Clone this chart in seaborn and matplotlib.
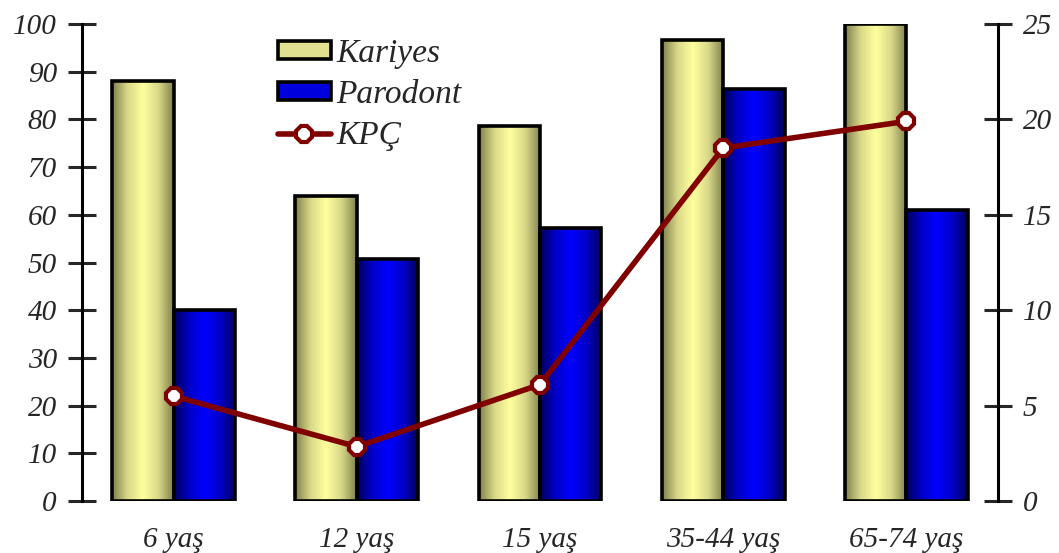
"""Kariyes / Parodont prevalence by age group, with KPÇ on a secondary axis."""
import numpy as np
import pandas as pd
import matplotlib
matplotlib.use("Agg")
import matplotlib.pyplot as plt
from matplotlib.colors import LinearSegmentedColormap
from matplotlib.patches import Patch
from matplotlib.lines import Line2D
import seaborn as sns

# data
age_groups = ["6 yaş", "12 yaş", "15 yaş", "35-44 yaş", "65-74 yaş"]
kariyes = [88, 64, 78.7, 96.6, 100]
parodont = [40, 50.7, 57.2, 86.4, 61]
kpc = [5.5, 2.85, 6.1, 18.5, 19.9]

SERIES = ["Kariyes", "Parodont"]
# edge -> centre -> edge colours for the "cylinder" shading
GRADIENTS = {
    "Kariyes": ["#7f7f4c", "#d8d888", "#ffff9e", "#d8d888", "#7f7f4c"],
    "Parodont": ["#00005a", "#0000c8", "#0000ff", "#0000c8", "#00005a"],
}
LEGEND_FILL = {"Kariyes": "#e0e090", "Parodont": "#0000dd"}
LINE_COLOR = "#800000"
FS = 21

df = pd.DataFrame({
    "group": age_groups * 2,
    "series": ["Kariyes"] * len(age_groups) + ["Parodont"] * len(age_groups),
    "value": kariyes + parodont,
})

sns.set_theme(style="white")
plt.rcParams["font.family"] = ["Liberation Serif", "DejaVu Serif"]
plt.rcParams["font.style"] = "italic"

fig = plt.figure(figsize=(10.59, 5.53), dpi=100)
ax = fig.add_axes([0.0774, 0.094, 0.865, 0.8626])

sns.barplot(data=df, x="group", y="value", hue="series", hue_order=SERIES,
            order=age_groups, width=0.67, gap=0, ax=ax, legend=False,
            palette={s: LEGEND_FILL[s] for s in SERIES})

# replace the flat fills with a horizontal gradient clipped to each bar
n = len(age_groups)
for i, p in enumerate(ax.patches[: 2 * n]):
    series = SERIES[i // n]
    cmap = LinearSegmentedColormap.from_list(series, GRADIENTS[series])
    x0, y0 = p.get_x(), p.get_y()
    w, h = p.get_width(), p.get_height()
    grad = np.linspace(0, 1, 256).reshape(1, -1)
    im = ax.imshow(grad, cmap=cmap, aspect="auto", extent=(x0, x0 + w, y0, y0 + h),
                   zorder=p.get_zorder(), interpolation="bicubic")
    im.set_clip_path(p)
    p.set_facecolor("none")
    p.set_edgecolor("black")
    p.set_linewidth(2.6)
    p.set_zorder(p.get_zorder() + 0.5)

ax.set_xlim(-0.5, n - 0.5)
ax.set_ylim(0, 100)
ax.set_yticks(range(0, 101, 10))
ax.set_xlabel("")
ax.set_ylabel("")
for s in ["top", "right", "bottom"]:
    ax.spines[s].set_visible(False)
ax.spines["left"].set_linewidth(2.2)
ax.spines["left"].set_color("black")
ax.tick_params(axis="y", direction="inout", length=20, width=2.2, labelsize=FS,
               pad=8, left=True)
ax.tick_params(axis="x", length=0, labelsize=FS, pad=19)

ax2 = ax.twinx()
sns.lineplot(x=list(range(n)), y=kpc, ax=ax2, color=LINE_COLOR, linewidth=4,
             marker="8", markersize=12, markerfacecolor="white",
             markeredgecolor=LINE_COLOR, markeredgewidth=3, sort=False)
ax2.set_ylim(0, 25)
ax2.set_yticks(range(0, 26, 5))
for s in ["top", "left", "bottom"]:
    ax2.spines[s].set_visible(False)
ax2.spines["right"].set_linewidth(2.2)
ax2.spines["right"].set_color("black")
ax2.tick_params(axis="y", direction="inout", length=20, width=2.2, labelsize=FS,
                pad=8, right=True)
ax2.grid(False)
ax.grid(False)

handles = [
    Patch(facecolor=LEGEND_FILL["Kariyes"], edgecolor="black", linewidth=2.6),
    Patch(facecolor=LEGEND_FILL["Parodont"], edgecolor="black", linewidth=2.6),
    Line2D([], [], color=LINE_COLOR, linewidth=4, marker="8", markersize=13,
           markerfacecolor="white", markeredgecolor=LINE_COLOR, markeredgewidth=3),
]
ax2.legend(handles, ["Kariyes", "Parodont", "KPÇ"], loc="upper left",
           bbox_to_anchor=(0.2497, 0.955), bbox_transform=fig.transFigure,
           frameon=False, fontsize=24, handlelength=1.6, handleheight=0.45,
           labelspacing=0.32, handletextpad=0.15, borderaxespad=0)

fig.savefig("out.png", dpi=100)
